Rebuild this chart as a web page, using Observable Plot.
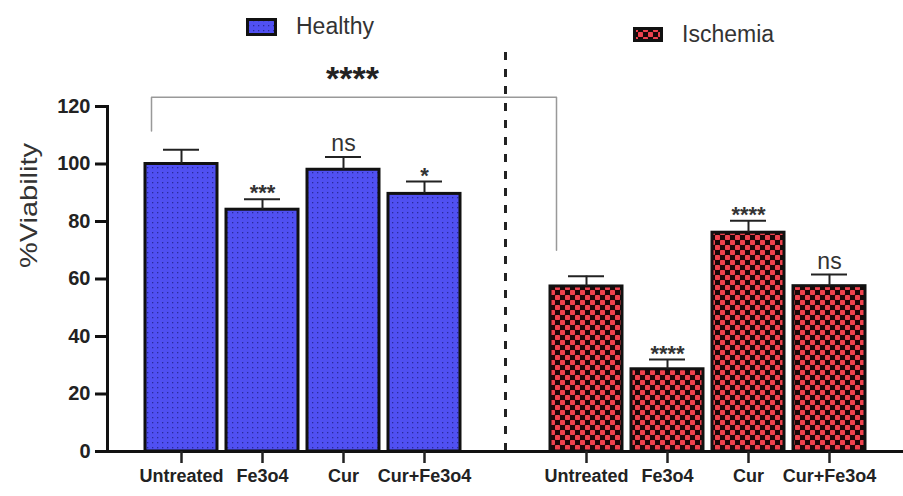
<!DOCTYPE html>
<html>
<head>
<meta charset="utf-8">
<script src="https://cdn.jsdelivr.net/npm/d3@7"></script>
<script src="https://cdn.jsdelivr.net/npm/@observablehq/plot@0.6"></script>
<style>
  html, body { margin: 0; padding: 0; background: #fff; }
  #wrap { position: relative; width: 903px; height: 496px; font-family: "Liberation Sans", Arial, sans-serif; }
  .leg { position: absolute; display: flex; align-items: center; color: #333; font-size: 23px; }
  .leg svg { display: block; margin-right: 19px; }
  svg text { font-family: "Liberation Sans", Arial, sans-serif; }
  g[aria-label="x-axis tick label"] text, g[aria-label="y-axis tick label"] text { font-weight: bold; fill: #222; }
</style>
</head>
<body>
<div id="wrap"></div>
<script>
// ---- data ----
const groups = ["Healthy", "Ischemia"];
const treatments = ["Untreated", "Fe3o4", "Cur", "Cur+Fe3o4"];
const healthyMeans = [100, 84.1, 98, 89.6];
const healthySD = [5, 3.6, 4.4, 4.3];
const healthySig = ["", "***", "ns", "*"];
const ischemiaMeans = [57.4, 28.6, 76.1, 57.5];
const ischemiaSD = [3.6, 3.4, 4.2, 4.1];
const ischemiaSig = ["", "****", "****", "ns"];
const yTicks = [0, 20, 40, 60, 80, 100, 120];
const yLabel = "%Viability";
const bracketLabel = "****";
const bracketTop = 123.2;
const bracketLeftEnd = 111.5;
const bracketRightEnd = 70;
const separatorTop = 139.5;

const means = {Healthy: healthyMeans, Ischemia: ischemiaMeans};
const sds = {Healthy: healthySD, Ischemia: ischemiaSD};
const sigs = {Healthy: healthySig, Ischemia: ischemiaSig};
const rows = groups.flatMap(g => treatments.map((t, i) => ({
  group: g, treatment: t, key: g + "|" + t,
  mean: means[g][i], sd: sds[g][i], sig: sigs[g][i]
})));
const keyOf = (g, t) => g + "|" + t;
const gapKey = "gap";
const xDomain = [...treatments.map(t => keyOf("Healthy", t)), gapKey, ...treatments.map(t => keyOf("Ischemia", t))];
const bracket = [
  {x: keyOf("Healthy", "Untreated"), y: bracketLeftEnd},
  {x: keyOf("Healthy", "Untreated"), y: bracketTop},
  {x: keyOf("Ischemia", "Untreated"), y: bracketTop},
  {x: keyOf("Ischemia", "Untreated"), y: bracketRightEnd}
];

const fills = {Healthy: "url(#dotsBlue)", Ischemia: "url(#checkRed)"};

const svg = Plot.plot({
  width: 903,
  height: 496,
  marginLeft: 107,
  marginRight: 0,
  marginTop: 106,
  marginBottom: 45,
  x: {type: "band", domain: xDomain, paddingInner: 0.11, paddingOuter: 0.44, label: null},
  y: {domain: [0, 120], label: null},
  marks: [
    ...groups.map(g => Plot.barY(rows.filter(d => d.group === g), {
      x: "key", y: "mean", fill: fills[g], stroke: "#111", strokeWidth: 3
    })),
    Plot.ruleX(rows, {x: "key", y1: "mean", y2: d => d.mean + d.sd, stroke: "#222", strokeWidth: 2}),
    Plot.tickY(rows, {x: "key", y: d => d.mean + d.sd, stroke: "#222", strokeWidth: 2, insetLeft: 18, insetRight: 18}),
    Plot.text(rows.filter(d => d.sig.startsWith("*")), {
      x: "key", y: d => d.mean + d.sd, text: "sig", dy: -6, fontSize: 22, fontWeight: "bold", fill: "#333", letterSpacing: 1
    }),
    Plot.text(rows.filter(d => d.sig === "ns"), {
      x: "key", y: d => d.mean + d.sd, text: "sig", dy: -13, fontSize: 23, fill: "#333"
    }),
    Plot.ruleX([gapKey], {x: d => d, y1: 0, y2: separatorTop, stroke: "#222", strokeWidth: 3, strokeDasharray: "8,9"}),
    Plot.line(bracket, {x: "x", y: "y", dx: -30, stroke: "#999", strokeWidth: 1.5, curve: "linear"}),
    Plot.text([bracketLabel], {x: () => keyOf("Healthy", "Cur"), y: () => bracketTop, text: d => d, dx: 9, dy: -18, fontSize: 34, fontWeight: "bold", fill: "#222", letterSpacing: 2}),
    Plot.text([yLabel], {frameAnchor: "left", text: d => d, dx: -78, dy: -11, rotate: -90, fontSize: 24, fill: "#333"}),
    Plot.ruleY([0], {stroke: "#111", strokeWidth: 3}),
    Plot.frame({anchor: "left", stroke: "#111", strokeWidth: 3}),
    Plot.axisY({ticks: yTicks, tickSize: 12, tickPadding: 5, strokeWidth: 3, stroke: "#111", fontSize: 20, label: null}),
    Plot.axisX({ticks: xDomain.filter(k => k !== gapKey), tickFormat: k => k.split("|")[1], tickSize: 12, tickPadding: 6, strokeWidth: 2.5, stroke: "#222", fontSize: 18, label: null})
  ]
});

// patterns
const defs = d3.select(svg).insert("defs", ":first-child");
const pb = defs.append("pattern").attr("id", "dotsBlue").attr("patternUnits", "userSpaceOnUse").attr("width", 5).attr("height", 5);
pb.append("rect").attr("width", 5).attr("height", 5).attr("fill", "#5050f2");
pb.append("rect").attr("x", 2).attr("y", 2).attr("width", 1.3).attr("height", 1.3).attr("fill", "#2a2a9c");
const pr = defs.append("pattern").attr("id", "checkRed").attr("patternUnits", "userSpaceOnUse").attr("width", 10).attr("height", 10);
pr.append("rect").attr("width", 10).attr("height", 10).attr("fill", "#1a0808");
pr.append("rect").attr("x", 0).attr("y", 0).attr("width", 5).attr("height", 5).attr("rx", 0.8).attr("fill", "#f0424e");
pr.append("rect").attr("x", 5).attr("y", 5).attr("width", 5).attr("height", 5).attr("rx", 0.8).attr("fill", "#f0424e");

d3.select(svg).selectAll("text").filter(function() { return this.textContent === yLabel; })
  .attr("textLength", 125).attr("lengthAdjust", "spacingAndGlyphs");

const wrap = document.getElementById("wrap");
wrap.appendChild(svg);

// legend overlay
function legendItem(label, left, top, swW, swH, fill) {
  const div = document.createElement("div");
  div.className = "leg";
  div.style.left = left + "px";
  div.style.top = top + "px";
  div.innerHTML = `<svg width="${swW}" height="${swH}"><rect x="1.5" y="1.5" width="${swW - 3}" height="${swH - 3}" fill="${fill}" stroke="#111" stroke-width="3"/></svg><span>${label}</span>`;
  wrap.appendChild(div);
}
legendItem(groups[0], 246, 13, 31, 18, "url(#dotsBlue)");
legendItem(groups[1], 633, 21, 30, 15, "url(#checkRed)");
</script>
</body>
</html>
